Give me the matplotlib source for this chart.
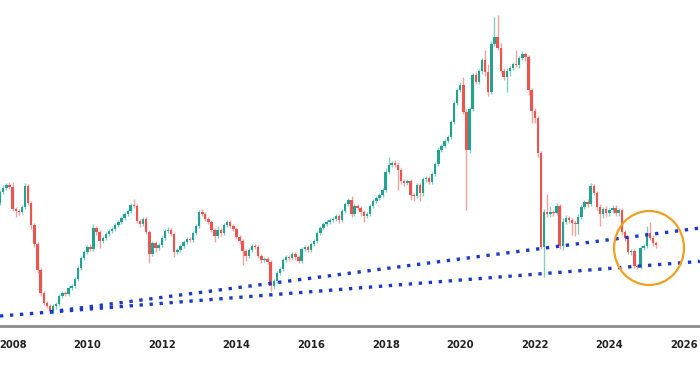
import numpy as np
import pandas as pd
import matplotlib
matplotlib.use('Agg')

import matplotlib.pyplot as plt
import matplotlib.dates as mdates
from matplotlib.patches import Ellipse

# monthly candles, Sep 2007 .. Apr 2025 (price units are arbitrary)
first_open = 127
closes = [
    138, 142, 145, 143,                                        # 2007 Sep-Dec
    121, 119, 118, 123, 144, 127, 105, 86, 60, 37, 27, 24,     # 2008
    19, 24, 26, 34, 37, 36, 42, 44, 51, 62, 72, 78,            # 2009
    83, 81, 102, 98, 89, 92, 96, 99, 101, 105, 108, 112,       # 2010
    116, 119, 125, 124, 109, 106, 111, 98, 76, 87, 82, 85,     # 2011
    92, 99, 100, 96, 78, 80, 84, 88, 91, 90, 97, 104,          # 2012
    118, 116, 111, 108, 100, 94, 100, 97, 105, 108, 104, 101,  # 2013
    93, 89, 79, 74, 80, 84, 83, 74, 70, 71, 68, 44,            # 2014
    49, 57, 61, 70, 73, 72, 76, 73, 69, 81, 83, 80,            # 2015
    86, 89, 97, 102, 106, 108, 110, 111, 114, 110, 119, 126,   # 2016
    130, 116, 124, 122, 118, 114, 116, 124, 129, 132, 135, 140,  # 2017
    158, 165, 167, 165, 160, 149, 147, 149, 135, 134, 145, 137,  # 2018
    151, 152, 148, 156, 166, 180, 184, 189, 193, 208, 227, 240,  # 2019
    245, 218, 180, 221, 255, 248, 259, 270, 258, 238, 286, 293,  # 2020
    282, 259, 253, 259, 262, 266, 265, 272, 276, 273, 240, 219,  # 2021
    212, 177, 83, 118, 116, 118, 117, 124, 84, 108, 112, 110,    # 2022
    107, 106, 113, 123, 128, 126, 144, 137, 123, 116, 121, 117,  # 2023
    120, 122, 117, 120, 98, 92, 78, 79, 64, 63, 82, 84,          # 2024
    97, 92, 87, 85,                                              # 2025 Jan-Apr
]
wick_up = [
    2, 3, 2, 3,
    5, 2, 2, 2, 3, 2, 2, 2, 2, 2, 2, 2,
    2, 2, 2, 2, 2, 2, 2, 2, 2, 2, 2, 2,
    2, 3, 4, 2, 2, 2, 2, 2, 2, 2, 2, 2,
    2, 2, 2, 6, 2, 2, 2, 2, 2, 2, 2, 2,
    2, 2, 3, 2, 2, 2, 2, 2, 2, 2, 2, 2,
    2, 3, 2, 2, 2, 2, 4, 2, 2, 2, 2, 2,
    2, 2, 2, 2, 2, 2, 2, 2, 2, 2, 2, 2,
    2, 2, 2, 2, 2, 2, 2, 2, 2, 2, 2, 2,
    2, 2, 2, 2, 2, 2, 2, 2, 2, 2, 2, 2,
    2, 4, 2, 2, 2, 2, 2, 2, 2, 2, 2, 2,
    4, 8, 2, 3, 3, 2, 2, 2, 2, 2, 2, 2,
    2, 2, 2, 2, 2, 3, 2, 2, 2, 2, 2, 2,
    3, 8, 3, 2, 2, 3, 2, 2, 10, 8, 3, 20,
    22, 5, 3, 3, 2, 2, 14, 2, 3, 2, 2, 2,
    3, 2, 2, 3, 18, 6, 2, 3, 2, 4, 3, 2,
    2, 3, 3, 2, 2, 3, 3, 2, 2, 3, 2, 3,
    2, 3, 3, 2, 2, 2, 2, 2, 2, 2, 2, 2,
    7, 11, 3, 2,
]
wick_dn = [
    2, 2, 2, 2,
    2, 6, 3, 2, 2, 2, 4, 3, 3, 3, 2, 2,
    3, 3, 3, 2, 2, 2, 2, 2, 2, 2, 2, 2,
    2, 2, 2, 3, 7, 2, 2, 2, 2, 2, 2, 2,
    2, 2, 2, 2, 2, 3, 2, 2, 9, 2, 4, 2,
    2, 2, 2, 2, 5, 2, 2, 2, 2, 2, 2, 2,
    2, 2, 2, 2, 2, 6, 2, 3, 2, 2, 2, 2,
    2, 3, 14, 5, 2, 2, 2, 2, 3, 2, 2, 5,
    3, 2, 2, 2, 2, 3, 2, 3, 2, 2, 2, 2,
    2, 2, 2, 2, 2, 2, 2, 2, 2, 3, 2, 2,
    2, 3, 2, 2, 4, 6, 2, 2, 2, 2, 2, 2,
    2, 2, 2, 2, 20, 3, 3, 2, 5, 5, 2, 8,
    3, 3, 2, 2, 2, 2, 2, 2, 2, 2, 2, 2,
    2, 2, 60, 3, 2, 2, 2, 3, 4, 4, 2, 2,
    2, 2, 3, 15, 5, 2, 2, 3, 2, 4, 5, 12,
    5, 4, 2, 30, 3, 3, 3, 2, 3, 4, 2, 3,
    12, 12, 10, 2, 2, 3, 2, 2, 3, 12, 4, 4,
    3, 3, 3, 3, 3, 3, 2, 3, 2, 2, 2, 2,
    2, 2, 3, 3,
]

# support lines (two anchors each) and the highlighted zone
lower_line = [('2009-01-01', 17.9), ('2025-01-01', 64.5)]
upper_line = [('2009-01-01', 18.2), ('2026-07-01', 102.3)]
circle_center = ('2025-01-23', 82)
years = list(range(2008, 2027, 2))

up_col = '#22a38f'
dn_col = '#ef5350'
line_col = '#1c38c8'

dates = pd.date_range('2007-09-01', periods=len(closes), freq='MS')
closes = np.array(closes, dtype=float)
opens = np.concatenate([[first_open], closes[:-1]])
highs = np.maximum(opens, closes) + np.array(wick_up)
lows = np.minimum(opens, closes) - np.array(wick_dn)
colors = [up_col if c >= o else dn_col for o, c in zip(opens, closes)]

fig = plt.figure(figsize=(7, 3.67), dpi=100)
ax = fig.add_axes([0, 41/367, 1, 326/367])

ax.vlines(dates, lows, highs, colors=colors, linewidth=1.0, alpha=0.55, zorder=2)
body = np.maximum(np.abs(closes - opens), 1.5)
ax.bar(dates, body, bottom=np.minimum(opens, closes), width=24,
       color=colors, linewidth=0, zorder=3)

dot = dict(color=line_col, linewidth=2.4, linestyle=(0, (1, 2)),
           dash_capstyle='butt', zorder=4)
p1 = (mdates.date2num(pd.Timestamp(lower_line[0][0])), lower_line[0][1])
p2 = (mdates.date2num(pd.Timestamp(lower_line[1][0])), lower_line[1][1])
ax.axline(p1, p2, **dot)
ax.plot([pd.Timestamp(d) for d, v in upper_line], [v for d, v in upper_line], **dot)

ell = Ellipse((mdates.date2num(pd.Timestamp(circle_center[0])), circle_center[1]),
              width=685, height=74, fill=False, edgecolor='#f0a020',
              linewidth=1.6, zorder=5)
ax.add_patch(ell)

ax.set_xlim(pd.Timestamp('2007-08-30'), pd.Timestamp('2026-06-06'))
ax.set_ylim(4, 330)

ax.set_xticks([pd.Timestamp(f'{y}-01-01') for y in years])
ax.set_xticklabels([str(y) for y in years], fontsize=7.2, color='#222222',
                   family=['Liberation Sans Narrow', 'DejaVu Sans'], fontweight='bold')
ax.tick_params(axis='x', length=0, pad=10)
ax.set_yticks([])
for s in ['top', 'left', 'right']:
    ax.spines[s].set_visible(False)
ax.spines['bottom'].set_color('#8c8c8c')
ax.spines['bottom'].set_linewidth(2)

plt.savefig('out.png', dpi=100)
